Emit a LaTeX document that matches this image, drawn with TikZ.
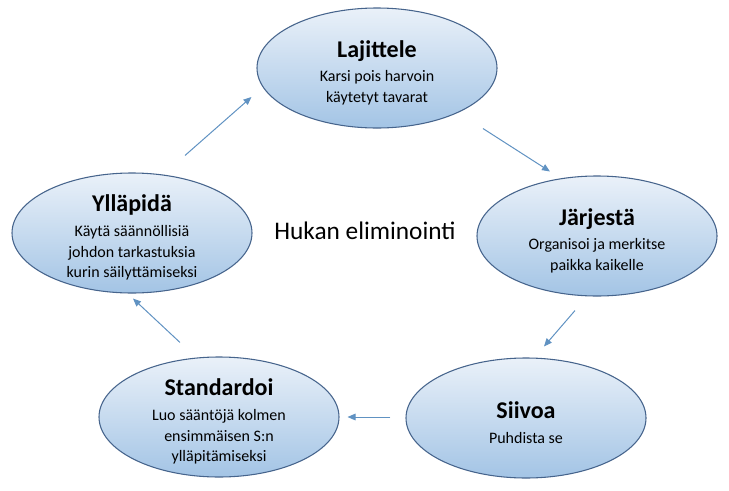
\documentclass[tikz,border=0pt]{standalone}
\usepackage{fontspec}
\setmainfont{Carlito}
\usepackage{xcolor}
\usetikzlibrary{arrows.meta,shapes.geometric}

\definecolor{rim}{RGB}{70,100,140}
\definecolor{fillhi}{RGB}{234,241,249}
\definecolor{filllo}{RGB}{163,196,229}
\definecolor{flowc}{RGB}{96,146,194}

\begin{document}
\begin{tikzpicture}[x=0.75pt,y=-0.75pt,
  phase/.style={ellipse,draw=rim,line width=0.8pt,top color=fillhi,bottom color=filllo,
    minimum width=180pt,minimum height=90pt,inner sep=0pt},
  phasetext/.style={align=center,yshift=-3.5pt,font=\fontsize{12}{15.5}\selectfont},
  flow/.style={draw=flowc,line width=0.75pt,-{Triangle[length=6pt,width=5pt]}}]
\useasboundingbox (0,0) rectangle (729,490);
\node[phase] (laj) at (377,68) {};
\node[phase] (jar) at (597,236) {};
\node[phase] (sii) at (526,418) {};
\node[phase] (sta) at (219,417) {};
\node[phase] (yll) at (132,233) {};
\node[phasetext] (laj-t) at (laj) {{\fontsize{18}{20}\selectfont\bfseries Lajittele}\\[3pt]Karsi pois harvoin\\käytetyt tavarat};
\node[phasetext] (jar-t) at (jar) {{\fontsize{18}{20}\selectfont\bfseries Järjestä}\\[3pt]Organisoi ja merkitse\\paikka kaikelle};
\node[phasetext] (sii-t) at (sii) {{\fontsize{18}{20}\selectfont\bfseries Siivoa}\\[3pt]Puhdista se};
\node[phasetext] (sta-t) at (sta) {{\fontsize{18}{20}\selectfont\bfseries Standardoi}\\[3pt]Luo sääntöjä kolmen\\ensimmäisen S:n\\ylläpitämiseksi};
\node[phasetext] (yll-t) at (yll) {{\fontsize{18}{20}\selectfont\bfseries Ylläpidä}\\[3pt]Käytä säännöllisiä\\johdon tarkastuksia\\kurin säilyttämiseksi};
\node[font=\fontsize{19}{21}\selectfont] (huk) at (365,231) {Hukan eliminointi};
\draw[flow] ([shift={(53,-17)}]yll.north) -- ([shift={(-5,29)}]laj.west);
\draw[flow] ([shift={(106,0)}]laj.south) -- ([shift={(-47,-4)}]jar.north);
\draw[flow] ([shift={(-22,14)}]jar.south) -- ([shift={(18,-11)}]sii.north);
\draw[flow] ([shift={(-15,-1)}]sii.west) -- ([shift={(8,0)}]sta.east);
\draw[flow] ([shift={(-39,-14)}]sta.north) -- ([shift={(1,5)}]yll.south);
\end{tikzpicture}
\end{document}
